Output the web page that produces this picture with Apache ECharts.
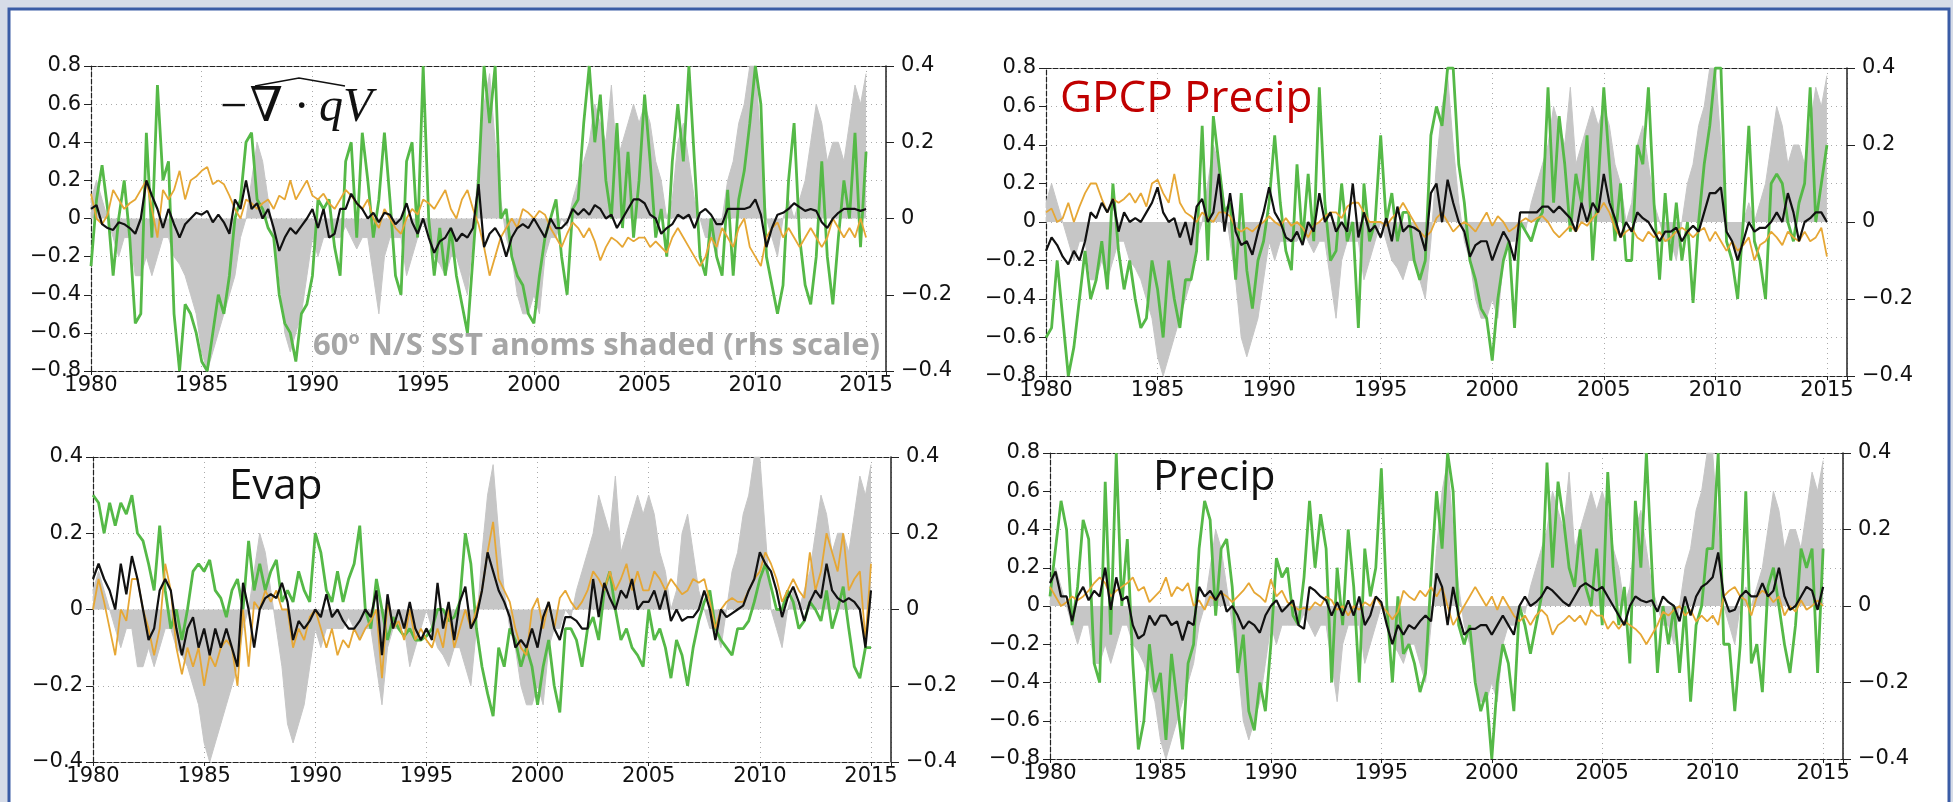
<!DOCTYPE html>
<html>
<head>
<meta charset="utf-8">
<script src="https://cdn.jsdelivr.net/npm/echarts@6/dist/echarts.min.js"></script>
<style>
  html, body { margin: 0; padding: 0; background: #d6dce8; }
  #chart { width: 1953px; height: 802px; }
</style>
</head>
<body>
<div id="chart"></div>
<script>
// quarterly samples, 1980.00 .. 2015.00 (141 values each)
const startYear = 1980;
const stepsPerYear = 4;
const xTickYears = [1980, 1985, 1990, 1995, 2000, 2005, 2010, 2015];

// 60N/S SST anomaly (grey shading, rhs scale)
const sstAnom = [
  0.05, 0.1, 0.05, 0.0,   -0.05, -0.1, -0.05, -0.05,  -0.15, -0.15, -0.1, -0.15,  -0.1, -0.05, -0.05, -0.1,
  -0.12, -0.15, -0.2, -0.25,  -0.35, -0.4, -0.35, -0.3,  -0.25, -0.2, -0.15, -0.05,  0.0, 0.1, 0.2, 0.15,
  0.05, -0.05, -0.15, -0.3,  -0.35, -0.3, -0.25, -0.15,  -0.05, -0.1, -0.05, -0.05,  -0.05, -0.05, -0.02, -0.05,
  -0.08, -0.05, -0.05, -0.15,  -0.25, -0.1, -0.05, -0.05,  -0.05, -0.15, -0.1, -0.05,  0.0, -0.05, -0.1, -0.12,
  -0.15, -0.1, -0.1, -0.15,  -0.2, -0.05, 0.15, 0.3,  0.38, 0.2, 0.05, -0.05,  -0.1, -0.2, -0.25, -0.25,
  -0.2, -0.25, -0.1, -0.05,  -0.05, 0.0, -0.02, 0.05,  0.1, 0.15, 0.2, 0.3,  0.25, 0.2, 0.35, 0.15,
  0.2, 0.25, 0.3, 0.25,  0.3, 0.25, 0.15, 0.1,  0.0, 0.05, 0.2, 0.25,  0.15, 0.05, 0.0, -0.05,
  -0.05, -0.1, 0.0, 0.1,  0.15, 0.25, 0.3, 0.4,  0.4, 0.2, 0.0, -0.05,  -0.1, 0.0, 0.05, 0.0,
  0.05, 0.1, 0.2, 0.3,  0.25, 0.15, 0.2, 0.2,  0.15, 0.25, 0.35, 0.3,  0.38
];

// panel 1: -div(qV)
const divGreen = [
  -0.25, 0.1, 0.28, 0.05,  -0.3, 0.0, 0.2, -0.1,  -0.55, -0.5, 0.45, -0.1,  0.7, 0.2, 0.3, -0.5,
  -0.8, -0.45, -0.5, -0.6,  -0.75, -0.8, -0.6, -0.4,  -0.5, -0.3, 0.0, 0.1,  0.4, 0.45, 0.1, 0.05,
  -0.05, -0.1, -0.4, -0.55,  -0.6, -0.75, -0.5, -0.45,  -0.3, 0.1, 0.05, 0.1,  -0.15, -0.3, 0.3, 0.4,
  -0.1, 0.45, 0.2, -0.1,  0.1, 0.45, 0.1, -0.3,  -0.4, 0.3, 0.4, -0.1,  0.8, 0.0, -0.3, -0.05,
  -0.3, -0.05, -0.3, -0.45,  -0.6, -0.2, 0.2, 0.8,  0.5, 0.8, 0.0, 0.05,  -0.2, -0.3, -0.35, -0.5,
  -0.55, -0.3, -0.1, 0.0,  0.1, -0.2, -0.4, 0.05,  0.1, 0.5, 0.8, 0.4,  0.65, 0.2, 0.0, 0.5,
  -0.05, 0.35, -0.1, 0.2,  0.65, 0.3, -0.1, 0.05,  -0.2, 0.3, 0.6, 0.3,  0.8, 0.3, -0.2, -0.3,
  0.0, -0.2, -0.3, 0.15,  -0.3, 0.1, 0.25, 0.5,  0.8, 0.6, -0.2, -0.35,  -0.5, -0.35, 0.2, 0.5,
  -0.1, -0.35, -0.45, -0.2,  0.3, -0.2, -0.45, -0.1,  0.2, 0.0, 0.45, -0.15,  0.35
];
const divOrange = [
  0.13, 0.0, -0.03, 0.02,  0.15, 0.1, 0.05, 0.08,  0.1, 0.15, 0.2, 0.05,  -0.1, 0.15, 0.1, 0.15,
  0.25, 0.1, 0.2, 0.22,  0.25, 0.27, 0.18, 0.2,  0.18, 0.12, 0.05, 0.0,  0.1, 0.08, 0.05, 0.08,
  0.1, 0.05, 0.12, 0.1,  0.2, 0.1, 0.15, 0.2,  0.12, 0.1, 0.13, 0.08,  0.05, 0.1, 0.15, 0.12,
  0.08, 0.05, 0.1, 0.0,  -0.05, 0.05, 0.0, -0.05,  -0.08, 0.0, 0.05, 0.02,  0.1, 0.08, 0.05, 0.1,
  0.15, 0.05, 0.0, 0.1,  0.15, 0.05, -0.03, -0.15,  -0.3, -0.2, -0.1, -0.05,  0.0, -0.05, 0.05, 0.03,
  0.0, 0.04, 0.02, -0.05,  -0.1, -0.15, -0.08, -0.02,  -0.05, -0.1, -0.05, -0.12,  -0.22, -0.15, -0.1, -0.12,
  -0.15, -0.1, -0.12, -0.1,  -0.1, -0.15, -0.12, -0.15,  -0.18, -0.1, -0.05, -0.1,  -0.15, -0.2, -0.25, -0.2,
  -0.1, -0.15, -0.05, -0.1,  -0.15, -0.05, 0.0, -0.15,  -0.2, -0.25, -0.1, -0.05,  -0.02, -0.1, -0.05, -0.1,
  -0.15, -0.1, -0.05, -0.1,  -0.15, -0.1, 0.0, -0.05,  -0.1, -0.05, -0.1, 0.0,  -0.1
];
const divBlack = [
  0.05, 0.07, -0.03, -0.05,  -0.06, -0.02, -0.03, -0.05,  -0.08, 0.0, 0.2, 0.12,  0.05, -0.05, 0.05, -0.03,
  -0.1, -0.03, 0.0, 0.03,  0.02, 0.04, -0.02, 0.02,  -0.02, -0.08, 0.1, 0.05,  0.2, 0.05, 0.08, 0.0,
  0.05, -0.05, -0.17, -0.1,  -0.05, -0.08, -0.04, 0.0,  0.05, -0.05, 0.05, -0.1,  -0.08, 0.05, 0.05, 0.13,
  0.08, 0.05, 0.0, 0.03,  -0.02, 0.03, 0.02, -0.03,  0.0, 0.08, -0.02, -0.08,  0.0, -0.1, -0.18, -0.12,
  -0.1, -0.05, -0.12, -0.08,  -0.1, -0.05, 0.18, -0.15,  -0.08, -0.05, -0.1, -0.2,  -0.1, -0.05, -0.03, -0.05,
  0.0, -0.05, -0.1, 0.0,  -0.05, -0.05, -0.02, 0.05,  0.02, 0.05, 0.02, 0.07,  0.05, 0.0, 0.02, -0.05,
  0.0, 0.05, 0.1, 0.1,  0.08, 0.02, 0.0, -0.08,  -0.05, -0.03, 0.02, 0.0,  0.02, -0.05, 0.03, 0.05,
  0.02, -0.03, -0.03, 0.05,  0.05, 0.05, 0.05, 0.06,  0.1, 0.02, -0.15, -0.05,  0.02, 0.03, 0.05, 0.08,
  0.06, 0.04, 0.05, 0.04,  -0.02, -0.05, 0.0, 0.03,  0.05, 0.05, 0.05, 0.04,  0.05
];

// panel 2: GPCP precip
const gpcpGreen = [
  -0.6, -0.55, -0.2, -0.5,  -0.8, -0.65, -0.4, -0.15,  -0.4, -0.3, -0.1, -0.35,  0.2, -0.15, -0.35, -0.2,
  -0.4, -0.55, -0.5, -0.2,  -0.35, -0.6, -0.2, -0.4,  -0.55, -0.3, -0.3, -0.15,  0.5, -0.2, 0.55, 0.3,
  0.05, 0.1, -0.3, 0.15,  -0.25, -0.45, -0.2, -0.1,  0.1, 0.45, 0.1, -0.15,  -0.25, 0.3, -0.1, 0.25,
  -0.1, 0.7, 0.1, -0.2,  -0.15, 0.2, -0.1, 0.0,  -0.55, 0.2, -0.1, 0.0,  0.45, 0.0, 0.15, -0.1,
  0.05, 0.05, -0.2, -0.3,  -0.2, 0.45, 0.6, 0.5,  0.8, 0.8, 0.3, 0.1,  -0.2, -0.3, -0.45, -0.5,
  -0.72, -0.4, -0.2, -0.1,  -0.55, 0.0, -0.05, -0.1,  0.0, 0.05, 0.7, 0.1,  0.55, 0.3, -0.05, 0.25,
  0.1, 0.45, -0.2, 0.2,  0.7, 0.3, -0.1, 0.2,  -0.2, -0.2, 0.4, 0.3,  0.7, 0.1, -0.3, 0.15,
  -0.2, 0.1, -0.2, 0.0,  -0.42, 0.0, 0.3, 0.5,  0.8, 0.8, -0.1, -0.2,  -0.4, 0.0, 0.5, -0.1,
  -0.2, -0.4, 0.2, 0.25,  0.2, 0.0, -0.1, 0.1,  0.2, 0.7, 0.0, 0.2,  0.4
];
const gpcpOrange = [
  0.05, 0.07, 0.0, 0.02,  0.1, 0.0, 0.08, 0.15,  0.2, 0.2, 0.12, 0.05,  0.12, 0.1, 0.12, 0.15,
  0.1, 0.15, 0.08, 0.2,  0.22, 0.15, 0.1, 0.25,  0.1, 0.05, 0.03, 0.0,  0.05, 0.02, 0.0, 0.05,
  0.05, 0.03, -0.03, -0.05,  -0.03, -0.05, -0.02, 0.0,  0.03, 0.0, -0.02, 0.02,  -0.02, 0.0, -0.03, -0.08,
  -0.02, 0.0, 0.03, 0.05,  0.05, 0.02, 0.08, 0.1,  0.1, 0.05, 0.0, 0.0,  0.0, -0.02, 0.02, 0.05,
  0.1, 0.05, 0.0, -0.05,  -0.08, -0.05, 0.02, 0.05,  0.0, -0.05, -0.02, 0.0,  -0.02, -0.05, 0.0, 0.05,
  -0.02, 0.03, 0.0, -0.05,  -0.03, 0.0, 0.02, 0.0,  0.02, 0.03, 0.0, -0.05,  -0.08, -0.05, -0.02, -0.05,
  0.0, -0.02, 0.02, 0.05,  0.1, 0.05, -0.03, -0.08,  -0.05, -0.03, -0.08, -0.1,  -0.05, -0.08, -0.05, -0.1,
  -0.08, -0.05, -0.03, -0.05,  -0.08, -0.05, -0.03, -0.1,  -0.05, -0.1, -0.15, -0.1,  -0.15, -0.12, -0.08, -0.2,
  -0.12, -0.1, -0.05, -0.08,  -0.12, -0.05, -0.08, -0.1,  -0.05, -0.1, -0.08, -0.03,  -0.18
];
const gpcpBlack = [
  -0.15, -0.08, -0.12, -0.18,  -0.22, -0.15, -0.2, -0.1,  0.05, 0.02, 0.1, 0.05,  0.12, -0.05, 0.05, 0.0,
  0.02, 0.0, 0.05, 0.1,  0.18, 0.05, 0.0, 0.02,  -0.08, 0.0, -0.12, 0.08,  0.12, 0.0, 0.05, 0.25,
  -0.05, 0.15, -0.05, -0.12,  -0.1, -0.17, -0.05, 0.05,  0.18, 0.05, 0.0, -0.08,  -0.1, -0.05, -0.12, 0.0,
  -0.05, 0.15, 0.0, 0.05,  -0.05, 0.0, -0.05, 0.2,  -0.08, 0.05, -0.05, -0.02,  -0.08, 0.02, -0.1, 0.08,
  -0.05, -0.02, -0.03, -0.05,  -0.15, 0.15, 0.2, 0.0,  0.22, 0.1, 0.0, -0.05,  -0.18, -0.12, -0.1, -0.1,
  -0.2, -0.12, -0.05, -0.1,  -0.2, 0.05, 0.05, 0.05,  0.05, 0.08, 0.08, 0.05,  0.08, 0.05, 0.02, -0.05,
  0.1, 0.0, 0.1, 0.05,  0.25, 0.1, 0.02, -0.08,  0.0, -0.05, 0.05, 0.02,  0.0, -0.05, -0.1, -0.05,
  -0.05, -0.03, -0.1, -0.05,  -0.02, -0.05, 0.05, 0.15,  0.15, 0.18, -0.05, -0.1,  -0.2, -0.1, 0.0, -0.05,
  -0.03, -0.03, 0.0, 0.05,  0.0, 0.15, 0.05, -0.1,  0.0, 0.02, 0.05, 0.05,  0.0
];

// panel 3: evaporation
const evapGreen = [
  0.3, 0.28, 0.2, 0.28,  0.22, 0.28, 0.25, 0.3,  0.2, 0.18, 0.12, 0.05,  0.22, 0.05, -0.05, 0.0,
  -0.08, 0.0, 0.1, 0.12,  0.1, 0.13, 0.05, 0.03,  -0.02, 0.05, 0.08, 0.0,  0.18, 0.05, 0.12, 0.05,
  0.1, 0.13, 0.02, 0.05,  0.02, 0.1, 0.05, 0.02,  0.2, 0.15, 0.05, 0.02,  0.1, 0.02, 0.08, 0.12,
  0.22, 0.0, -0.05, 0.08,  0.0, -0.08, -0.02, -0.05,  -0.07, -0.05, -0.08, -0.08,  -0.07, -0.05, 0.0, 0.0,
  -0.03, -0.02, 0.02, 0.2,  0.12, -0.05, -0.15, -0.22,  -0.28, -0.1, -0.15, -0.05,  -0.08, -0.15, -0.1, -0.15,
  -0.25, -0.15, -0.08, -0.2,  -0.27, -0.05, -0.05, -0.08,  -0.15, -0.05, -0.02, -0.08,  0.05, 0.1, 0.0, -0.08,
  -0.05, -0.1, -0.12, -0.15,  0.0, -0.08, -0.05, -0.1,  -0.18, -0.08, -0.12, -0.2,  -0.1, -0.03, 0.02, 0.05,
  -0.05, -0.08, -0.1, -0.12,  -0.05, -0.05, -0.03, 0.02,  0.08, 0.12, 0.06, 0.0,  0.0, 0.05, 0.02, -0.05,
  -0.03, 0.02, 0.0, -0.03,  0.05, -0.05, 0.0, 0.06,  -0.05, -0.15, -0.18, -0.1,  -0.1
];
const evapOrange = [
  0.0, 0.08, 0.02, -0.05,  -0.12, 0.0, -0.03, 0.08,  0.08, 0.0, -0.05, -0.12,  -0.05, 0.12, 0.05, -0.1,
  -0.17, -0.1, -0.15, -0.1,  -0.2, -0.12, -0.15, -0.1,  -0.08, -0.1, -0.2, 0.0,  -0.15, 0.02, 0.0, 0.05,
  0.02, 0.05, 0.0, 0.0,  -0.1, -0.05, -0.08, -0.02,  0.0, -0.05, -0.1, -0.05,  -0.12, -0.08, -0.1, -0.05,
  -0.08, -0.05, -0.03, 0.0,  -0.18, 0.02, -0.05, -0.03,  -0.08, 0.0, -0.08, -0.05,  -0.08, -0.1, -0.05, -0.1,
  0.0, -0.1, -0.05, 0.0,  -0.05, 0.0, 0.05, 0.15,  0.23, 0.08, 0.05, 0.02,  -0.05, -0.1, -0.12, 0.0,
  0.03, -0.05, 0.02, -0.05,  0.03, 0.05, 0.02, 0.0,  0.02, 0.05, 0.1, 0.08,  0.05, 0.1, 0.05, 0.08,
  0.12, 0.05, 0.1, 0.05,  0.05, 0.1, 0.08, 0.05,  0.08, 0.06, 0.04, 0.05,  0.08, 0.07, 0.08, 0.02,
  -0.05, 0.0, 0.02, 0.03,  0.02, 0.02, 0.05, 0.08,  0.1, 0.15, 0.12, 0.08,  0.02, 0.05, 0.08, 0.05,
  0.03, 0.15, 0.05, 0.1,  0.2, 0.15, 0.1, 0.2,  0.05, 0.08, 0.1, -0.08,  0.12
];
const evapBlack = [
  0.08, 0.12, 0.08, 0.05,  0.0, 0.12, 0.04, 0.14,  0.08, 0.0, -0.08, -0.05,  0.05, 0.08, 0.05, -0.05,
  -0.12, -0.05, -0.02, -0.1,  -0.05, -0.12, -0.05, -0.1,  -0.05, -0.1, -0.15, 0.07,  0.0, -0.1, 0.0, 0.03,
  0.04, 0.03, 0.07, 0.02,  -0.08, -0.03, -0.05, -0.03,  0.0, -0.02, 0.04, -0.02,  0.0, -0.03, -0.05, -0.05,
  -0.03, 0.0, -0.02, 0.05,  -0.12, 0.04, -0.05, 0.0,  -0.05, 0.02, -0.05, -0.08,  -0.05, -0.08, 0.07, -0.05,
  0.02, -0.08, 0.02, 0.06,  -0.05, -0.02, 0.05, 0.15,  0.1, 0.05, 0.02, -0.02,  -0.1, -0.08, -0.1, -0.05,
  -0.1, -0.02, 0.02, -0.05,  -0.08, -0.02, -0.02, -0.03,  -0.05, -0.05, 0.08, -0.02,  0.07, 0.03, 0.0, 0.05,
  0.03, 0.08, 0.0, 0.02,  0.02, 0.05, 0.0, 0.05,  -0.03, 0.0, -0.03, -0.02,  -0.02, 0.0, 0.05, 0.0,
  -0.08, 0.0, -0.02, -0.01,  0.0, 0.01, 0.05, 0.08,  0.15, 0.12, 0.1, 0.05,  -0.02, 0.03, 0.06, 0.02,
  -0.03, 0.02, 0.05, 0.03,  0.12, 0.05, 0.03, 0.02,  0.03, 0.02, 0.0, -0.1,  0.05
];

// panel 4: precip
const precGreen = [
  0.05, 0.3, 0.55, 0.4,  -0.1, 0.1, 0.45, 0.35,  -0.3, -0.4, 0.65, -0.15,  0.8, 0.0, 0.35, -0.3,
  -0.75, -0.6, -0.2, -0.45,  -0.35, -0.7, -0.25, -0.5,  -0.75, -0.3, -0.2, 0.3,  0.55, 0.45, -0.05, 0.3,
  0.35, 0.1, -0.35, -0.15,  -0.55, -0.65, -0.4, -0.55,  -0.2, 0.25, 0.15, 0.2,  -0.05, -0.1, 0.15, 0.55,
  0.2, 0.48, 0.3, -0.4,  0.2, -0.1, 0.4, 0.1,  -0.4, 0.3, 0.05, 0.2,  0.72, 0.0, -0.4, 0.05,
  -0.25, -0.2, -0.3, -0.45,  -0.35, 0.15, 0.6, 0.3,  0.8, 0.6, -0.1, -0.2,  -0.1, -0.4, -0.55, -0.45,
  -0.8, -0.4, -0.2, -0.3,  -0.55, 0.0, -0.1, -0.25,  -0.1, 0.05, 0.75, 0.2,  0.65, 0.45, 0.2, 0.1,
  0.4, 0.1, 0.0, 0.3,  -0.1, 0.7, 0.2, -0.1,  0.1, -0.3, 0.55, 0.2,  0.8, 0.2, -0.35, 0.0,
  -0.2, 0.0, -0.35, 0.0,  -0.5, -0.1, 0.0, 0.3,  0.3, 0.8, -0.2, -0.2,  -0.55, -0.2, 0.6, -0.3,
  -0.2, -0.45, 0.1, 0.2,  0.0, -0.2, -0.35, -0.1,  0.3, 0.2, 0.3, -0.35,  0.3
];
const precOrange = [
  0.1, 0.05, 0.0, 0.02,  0.05, 0.03, 0.05, 0.08,  0.12, 0.15, 0.12, 0.05,  0.08, 0.1, 0.12, 0.15,
  0.08, 0.1, 0.02, 0.05,  0.08, 0.15, 0.05, 0.1,  0.08, 0.12, 0.0, 0.03,  -0.02, 0.05, 0.03, 0.07,
  0.05, 0.02, 0.05, 0.08,  0.12, 0.07, 0.05, 0.02,  0.14, 0.05, 0.08, 0.02,  0.0, -0.02, -0.01, -0.02,
  0.02, 0.0, 0.05, 0.03,  -0.02, 0.0, -0.05, 0.0,  -0.02, 0.02, 0.0, 0.05,  0.0, -0.03, -0.07, -0.03,
  0.08, 0.05, 0.03, 0.08,  0.05, 0.1, 0.05, 0.1,  0.0, -0.1, -0.05, 0.0,  0.05, 0.1, 0.05, 0.0,
  0.05, -0.02, 0.05, 0.0,  -0.05, -0.08, -0.05, -0.1,  -0.05, -0.02, -0.05, -0.15,  -0.1, -0.08, -0.05, -0.08,
  -0.05, -0.1, -0.02, -0.05,  -0.05, -0.12, -0.08, -0.12,  -0.08, -0.1, -0.12, -0.15,  -0.2, -0.15, -0.1, -0.03,
  -0.05, -0.02, 0.0, -0.05,  -0.02, -0.08, -0.05, -0.08,  -0.05, -0.1, 0.05, 0.08,  0.1, 0.05, 0.03, -0.05,
  0.05, 0.08, 0.06, 0.02,  0.05, -0.05, 0.0, -0.03,  0.03, -0.02, 0.0, 0.03,  0.0
];
const precBlack = [
  0.12, 0.18, 0.05, 0.05,  -0.08, 0.05, 0.1, 0.03,  0.08, 0.05, 0.2, -0.02,  0.15, 0.03, 0.05, -0.1,
  -0.17, -0.15, -0.05, -0.1,  -0.05, -0.05, -0.1, -0.08,  -0.18, -0.08, -0.1, 0.1,  0.05, 0.08, 0.03, 0.08,
  -0.03, 0.0, -0.05, -0.12,  -0.08, -0.1, -0.14, -0.05,  0.0, 0.03, -0.03, 0.0,  0.03, -0.1, -0.12, 0.1,
  0.08, 0.05, 0.03, -0.05,  0.02, -0.05, 0.03, -0.05,  0.05, -0.1, -0.05, 0.05,  0.02, -0.1, -0.2, -0.1,
  -0.15, -0.1, -0.12, -0.08,  -0.05, -0.08, 0.17, 0.1,  -0.1, 0.1, -0.05, -0.15,  -0.12, -0.12, -0.1, -0.1,
  -0.15, -0.1, -0.05, -0.1,  -0.15, 0.0, 0.05, 0.0,  0.02, 0.05, 0.1, 0.08,  0.05, 0.02, 0.0, 0.05,
  0.1, 0.12, 0.1, 0.08,  0.1, 0.05, 0.0, -0.05,  -0.1, 0.0, 0.05, 0.03,  0.02, 0.03, -0.03, 0.05,
  0.02, 0.0, -0.08, 0.05,  -0.05, 0.05, 0.1, 0.12,  0.15, 0.28, 0.05, -0.03,  -0.02, 0.05, 0.08, 0.05,
  0.05, 0.12, 0.05, 0.08,  0.2, 0.05, -0.02, 0.0,  0.05, 0.1, 0.08, -0.02,  0.1
];

const times = sstAnom.map((_, i) => startYear + i / stepsPerYear);
const toPairs = vals => vals.map((v, i) => [times[i], v]);

const GREEN = '#55b947';
const ORANGE = '#e6a735';
const BLACK = '#111111';
const SHADE = '#c6c6c6';
const FONT = '"DejaVu Sans", "Liberation Sans", sans-serif';

const panels = [
  { grid: { left: 91, top: 66, width: 795, height: 305 }, lhs: 0.8, green: divGreen, orange: divOrange, black: divBlack },
  { grid: { left: 1046, top: 68, width: 801, height: 308 }, lhs: 0.8, green: gpcpGreen, orange: gpcpOrange, black: gpcpBlack },
  { grid: { left: 93, top: 457, width: 798, height: 305 }, lhs: 0.4, green: evapGreen, orange: evapOrange, black: evapBlack },
  { grid: { left: 1050, top: 453, width: 793, height: 306 }, lhs: 0.8, green: precGreen, orange: precOrange, black: precBlack }
];

function yFmt(v) {
  const r = Math.round(v * 10) / 10;
  if (r === 0) return '0';
  return (r < 0 ? '\u2212' : '') + Math.abs(r);
}
function xFmt(v) {
  const r = Math.round(v);
  return Math.abs(v - r) < 1e-6 && xTickYears.includes(r) ? String(r) : '';
}

const grids = [], xAxes = [], yAxes = [], series = [];
const frameLine = { show: true, onZero: false, lineStyle: { color: '#222', width: 1.2, type: [5, 2] } };
const dotted = { show: true, lineStyle: { color: '#aaa', width: 1, type: [1, 4] } };

panels.forEach((p, k) => {
  grids.push(Object.assign({ containLabel: false }, p.grid));
  // bottom axis
  xAxes.push({
    type: 'value', gridIndex: k, min: 1980, max: 2015.9, interval: 5, position: 'bottom',
    axisLine: frameLine, axisTick: { show: true, length: 4, lineStyle: { color: '#222' } },
    axisLabel: { formatter: xFmt, fontFamily: FONT, fontSize: 21, color: '#111', margin: 4, showMaxLabel: true },
    splitLine: dotted
  });
  // top frame
  xAxes.push({
    type: 'value', gridIndex: k, min: 1980, max: 2015.9, position: 'top',
    axisLine: frameLine, axisTick: { show: false }, axisLabel: { show: false }, splitLine: { show: false }
  });
  yAxes.push({
    type: 'value', gridIndex: k, min: -p.lhs, max: p.lhs, interval: 0.2, position: 'left',
    axisLine: frameLine, axisTick: { show: true, length: 7, lineStyle: { color: '#222' } },
    axisLabel: { formatter: yFmt, fontFamily: FONT, fontSize: 21, color: '#111', margin: 10 },
    splitLine: dotted
  });
  yAxes.push({
    type: 'value', gridIndex: k, min: -0.4, max: 0.4, interval: 0.2, position: 'right',
    axisLine: { show: true, onZero: false, lineStyle: { color: '#222', width: 1.5 } },
    axisTick: { show: true, length: 8, lineStyle: { color: '#222' } },
    axisLabel: { formatter: yFmt, fontFamily: FONT, fontSize: 21, color: '#111', margin: 15 },
    splitLine: { show: false }
  });
  const xi = k * 2, yl = k * 2, yr = k * 2 + 1;
  series.push({
    type: 'line', xAxisIndex: xi, yAxisIndex: yr, data: toPairs(sstAnom), symbol: 'none', z: 1,
    lineStyle: { color: SHADE, width: 1 }, areaStyle: { color: SHADE, opacity: 1 }, silent: true
  });
  series.push({
    type: 'line', xAxisIndex: xi, yAxisIndex: yl, data: toPairs(p.green), symbol: 'none', z: 2,
    lineStyle: { color: GREEN, width: 2.8 }, silent: true
  });
  series.push({
    type: 'line', xAxisIndex: xi, yAxisIndex: yl, data: toPairs(p.orange), symbol: 'none', z: 3,
    lineStyle: { color: ORANGE, width: 1.8 }, silent: true
  });
  series.push({
    type: 'line', xAxisIndex: xi, yAxisIndex: yl, data: toPairs(p.black), symbol: 'none', z: 4,
    lineStyle: { color: BLACK, width: 2.2 }, silent: true
  });
});

const labelFont = '"Open Sans", "Noto Sans", sans-serif';
const graphic = [
  { type: 'rect', z: -100, shape: { x: 9, y: 9, width: 1940, height: 800 },
    style: { fill: '#ffffff', stroke: '#3a5ca6', lineWidth: 3 } },
  { type: 'text', z: 50, style: {
      x: 217, y: 108, text: '\u2212\u2207 \u00b7 qV', verticalAlign: 'middle',
      font: 'italic 48px "Liberation Serif", "DejaVu Serif", serif', fill: '#111' } },
  { type: 'polyline', z: 50, shape: { points: [[255, 86], [299, 78], [345, 86]] },
    style: { stroke: '#111', lineWidth: 1.6, fill: null } },
  { type: 'text', z: 50, style: {
      x: 313, y: 346, verticalAlign: 'middle',
      text: '{b|60}{s|o}{b| N/S SST anoms shaded (rhs scale)}',
      rich: {
        b: { font: 'bold 31px ' + labelFont, fill: '#a6a6a6' },
        s: { font: 'bold 18px ' + labelFont, fill: '#a6a6a6', verticalAlign: 'top', padding: [0, 0, 14, 0] }
      } } },
  { type: 'text', z: 50, style: {
      x: 1060, y: 99, text: 'GPCP Precip', verticalAlign: 'middle',
      font: '44px ' + labelFont, fill: '#c00000' } },
  { type: 'text', z: 50, style: {
      x: 229, y: 487, text: 'Evap', verticalAlign: 'middle',
      font: '42px ' + labelFont, fill: '#111' } },
  { type: 'text', z: 50, style: {
      x: 1153, y: 478, text: 'Precip', verticalAlign: 'middle',
      font: '42px ' + labelFont, fill: '#111' } }
];

const chart = echarts.init(document.getElementById('chart'), null, { renderer: 'canvas' });
chart.setOption({
  backgroundColor: '#d6dce8',
  animation: false,
  grid: grids,
  xAxis: xAxes,
  yAxis: yAxes,
  series: series,
  graphic: graphic
});
</script>
</body>
</html>
